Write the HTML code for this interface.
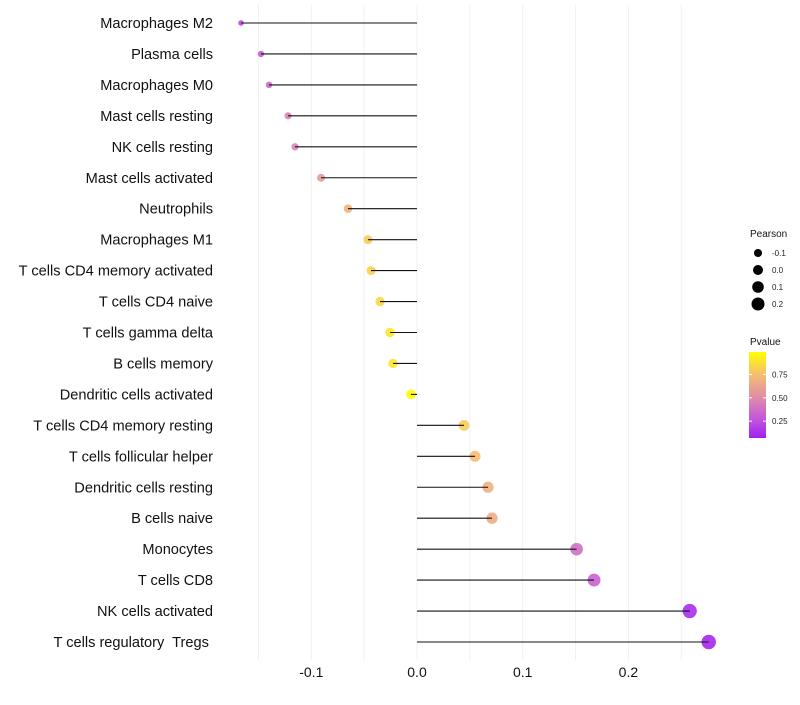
<!DOCTYPE html>
<html><head><meta charset="utf-8"><style>
body{margin:0;background:#fff;font-family:"Liberation Sans",sans-serif}
svg text{font-family:"Liberation Sans",sans-serif;white-space:pre}
</style></head><body>
<svg id="chart" width="800" height="700"></svg>
<script>
const categories=["Macrophages M2","Plasma cells","Macrophages M0","Mast cells resting","NK cells resting","Mast cells activated","Neutrophils","Macrophages M1","T cells CD4 memory activated","T cells CD4 naive","T cells gamma delta","B cells memory","Dendritic cells activated","T cells CD4 memory resting","T cells follicular helper","Dendritic cells resting","B cells naive","Monocytes","T cells CD8","NK cells activated","T cells regulatory  Tregs\u00a0"];
const pearson=[-0.1665,-0.1476,-0.140,-0.122,-0.1154,-0.0908,-0.0653,-0.0464,-0.0435,-0.035,-0.0255,-0.0227,-0.0057,0.0445,0.0549,0.0672,0.071,0.151,0.1675,0.258,0.276];
const pvalue=[0.25,0.3,0.35,0.45,0.47,0.57,0.7,0.8,0.82,0.85,0.9,0.9,0.98,0.8,0.75,0.68,0.66,0.38,0.33,0.12,0.1];
const xTicks=[-0.1,0.0,0.1,0.2];
const xTickLabels=["-0.1","0.0","0.1","0.2"];
const sizeLegend=[-0.1,0.0,0.1,0.2];
const colorLegend=[0.25,0.5,0.75];

const NS="http://www.w3.org/2000/svg";
const svg=document.getElementById('chart');
function el(t,a,p){const e=document.createElementNS(NS,t);for(const k in a)e.setAttribute(k,a[k]);(p||svg).appendChild(e);return e;}
const X=v=>417+v*1057;
const Y=i=>23+i*30.95;
const R=v=>Math.sqrt(Math.max(2.5,10+(v+0.148)*100));
const stops=[[0.07,[160,32,240]],[0.25,[192,80,224]],[0.5,[224,140,168]],[0.75,[245,190,112]],[0.99,[255,255,0]]];
function col(p){for(let i=0;i<stops.length-1;i++){const a=stops[i],b=stops[i+1];if(p<=b[0]||i==stops.length-2){let t=Math.max(0,Math.min(1,(p-a[0])/(b[0]-a[0])));const c=a[1].map((v,j)=>Math.round(v+(b[1][j]-v)*t));return `rgb(${c})`;}}}

for(let v=-0.15;v<=0.251;v+=0.05){
  const g=el('line',{x1:X(v),x2:X(v),y1:5,y2:660,stroke:'#f0f0f0','stroke-width':1});
  
  
}
xTicks.forEach((v,i)=>{
  const t=el('text',{x:X(v),y:677,'text-anchor':'middle','font-size':14,fill:'#111'});
  t.textContent=xTickLabels[i];
  
  
});
categories.forEach((c,i)=>{
  const t=el('text',{x:213,y:Y(i)+5,'text-anchor':'end','font-size':14.6,fill:'#111'});
  t.textContent=c;
  
  
  const v=pearson[i];
  const p=el('circle',{cx:X(v),cy:Y(i),r:R(v),fill:col(pvalue[i]),'fill-opacity':0.9});
  
  
  const l=el('line',{x1:X(0),x2:X(v),y1:Y(i),y2:Y(i),stroke:'#111','stroke-width':1.1});
  
  
});
let t=el('text',{x:750,y:237,'font-size':10,fill:'#111'});t.textContent='Pearson';


sizeLegend.forEach((v,i)=>{
  const y=253+i*17;
  const c=el('circle',{cx:758,cy:y,r:[4,5,5.8,6.5][i],fill:'#000'});
  
  
  const tt=el('text',{x:772,y:y+3,'font-size':8,fill:'#222'});tt.textContent=v.toFixed(1);
  
  
});
t=el('text',{x:750,y:345,'font-size':10,fill:'#111'});t.textContent='Pvalue';


const defs=el('defs',{});
const lg=el('linearGradient',{id:'pg',x1:0,y1:1,x2:0,y2:0},defs);
stops.forEach(s=>el('stop',{offset:(s[0]-0.07)/0.92,'stop-color':`rgb(${s[1]})`},lg));
const bar=el('rect',{x:749,y:352,width:17,height:86,fill:'url(#pg)'});


colorLegend.forEach(v=>{
  const y=438-(v-0.07)/0.92*86;
  el('line',{x1:749,x2:752,y1:y,y2:y,stroke:'#fff'});el('line',{x1:763,x2:766,y1:y,y2:y,stroke:'#fff'});
  const tt=el('text',{x:772,y:y+3,'font-size':8,fill:'#222'});tt.textContent=v.toFixed(2);
  
  
});
</script>
</body></html>
